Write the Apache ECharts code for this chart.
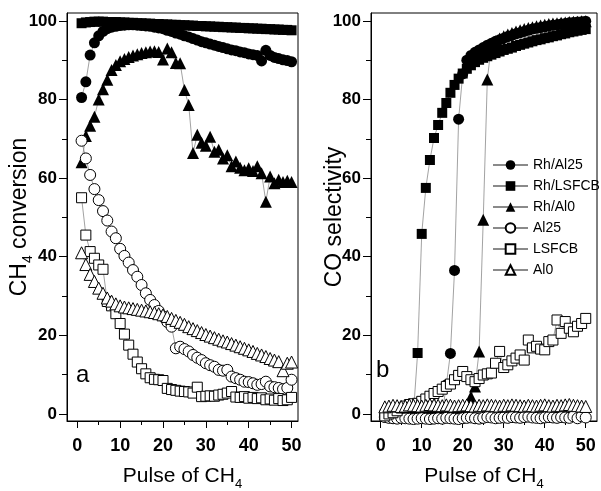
<!DOCTYPE html>
<html>
<head>
<meta charset="utf-8">
<script src="https://cdn.jsdelivr.net/npm/echarts@6/dist/echarts.min.js"></script>
<style>
html,body{margin:0;padding:0;background:#fff;}
#chart{width:601px;height:491px;}
</style>
</head>
<body>
<div id="chart"></div>
<script>
// ---------- data ----------
var pulses = [1,2,3,4,5,6,7,8,9,10,11,12,13,14,15,16,17,18,19,20,21,22,23,24,25,26,27,28,29,30,31,32,33,34,35,36,37,38,39,40,41,42,43,44,45,46,47,48,49,50];
var seriesNames = ['Rh/Al25','Rh/LSFCB','Rh/Al0','Al25','LSFCB','Al0'];

// panel a: CH4 conversion (%)
var rhAl25Conv = [80.5,84.5,91.3,94.4,96.2,97.3,98.0,98.4,98.6,98.8,98.9,99.0,99.0,98.9,98.8,98.7,98.6,98.4,98.2,98.0,97.6,97.3,96.9,96.6,96.2,95.9,95.5,95.1,94.7,94.4,94.1,93.8,93.5,93.2,92.9,92.6,92.4,92.1,91.9,91.6,91.4,91.2,89.8,92.5,91.2,90.7,90.4,90.1,89.9,89.6];
var rhLsfcbConv = [99.4,99.6,99.7,99.8,99.8,99.8,99.7,99.7,99.7,99.6,99.6,99.5,99.5,99.4,99.4,99.3,99.3,99.2,99.2,99.1,99.1,99.0,99.0,98.9,98.9,98.8,98.8,98.7,98.7,98.6,98.6,98.5,98.5,98.4,98.4,98.3,98.3,98.2,98.2,98.1,98.1,98.0,98.0,97.9,97.9,97.8,97.8,97.7,97.7,97.6];
var rhAl0Conv = [64.0,70.7,73.3,75.6,80.0,82.6,85.0,87.5,88.8,89.7,90.3,90.8,91.2,91.5,91.8,92.0,92.2,92.3,92.1,90.2,93.0,92.0,89.3,89.2,82.4,78.6,66.4,71.0,69.0,68.2,70.5,66.7,67.2,65.0,65.8,63.0,64.2,62.6,62.0,62.5,61.8,63.0,61.2,54.0,60.4,58.7,59.6,59.0,59.3,59.0];
var al25Conv = [69.5,65.0,60.8,57.2,54.4,51.6,49.2,46.4,44.7,42.0,40.2,38.5,36.6,34.9,32.8,30.7,29.0,27.7,26.2,24.8,23.4,22.2,16.7,17.1,16.5,15.9,15.0,14.3,13.7,12.9,12.4,12.0,11.2,11.0,11.2,9.5,9.1,8.7,8.2,8.1,7.8,7.4,7.6,8.2,7.0,6.8,6.6,6.3,6.6,8.7];
var lsfcbConv = [55.0,45.5,41.3,39.6,37.9,36.8,28.6,27.5,25.5,23.0,20.3,17.5,15.2,13.2,11.5,10.2,9.2,8.8,8.7,8.5,6.5,6.2,6.0,5.8,5.7,5.6,5.3,6.8,4.4,4.5,4.6,4.5,4.8,5.0,5.3,5.7,4.3,4.2,4.4,4.0,4.2,3.9,4.1,3.6,3.8,3.5,3.9,3.4,3.6,4.2];
var al0Conv = [41.0,38.0,35.5,33.7,32.0,30.7,29.5,28.7,28.0,27.5,27.2,27.0,26.8,26.6,26.4,26.2,26.0,25.8,25.5,25.2,24.8,24.3,23.8,23.3,22.8,22.2,21.7,21.2,20.7,20.2,19.8,19.4,19.0,18.6,18.3,17.9,17.5,17.1,16.7,16.3,15.9,15.4,15.0,14.6,14.1,13.7,13.3,11.0,12.9,13.2];

// panel b: CO selectivity (%)
var rhAl25Sel = [0,0,0,0,0,0,0,0,0,0,0,0,0,0,0,7.4,15.4,36.5,75.0,86.5,90.0,91.2,92.0,92.6,93.2,93.8,94.3,94.8,95.2,95.6,96.0,96.3,96.7,97.0,97.3,97.6,97.9,98.1,98.3,98.5,98.7,98.9,99.0,99.2,99.3,99.5,99.6,99.7,99.8,99.9];
var rhLsfcbSel = [0,0,0,0,0,0,0,0.5,15.5,45.8,57.5,64.6,70.2,73.5,76.6,79.1,81.7,83.7,85.3,86.6,87.8,88.7,89.5,90.1,90.6,91.0,91.4,91.8,92.2,92.6,92.9,93.2,93.6,93.9,94.2,94.5,94.8,95.1,95.3,95.6,95.8,96.1,96.3,96.6,96.8,97.1,97.3,97.5,97.7,97.9];
var rhAl0Sel = [0,0,0,0,0,0,0,0,0,0,0,0,0,0,0,0,0,0,0,0,0,4.4,7.0,15.9,49.4,85.1,93.9,94.8,95.5,96.1,96.5,96.9,97.3,97.6,97.9,98.2,98.4,98.6,98.8,99.0,99.2,99.3,99.4,99.5,99.6,99.7,99.8,99.8,99.9,99.9];
var al25Sel = [-0.8,-1.0,-1.1,-1.2,-1.0,-1.1,-1.2,-1.3,-1.2,-1.1,-1.2,-1.3,-1.2,-1.1,-1.2,-1.0,-1.1,-1.2,-1.3,-1.1,-1.0,-0.9,-1.1,-1.2,-1.0,-0.8,-0.9,-1.1,-1.0,-0.9,-1.0,-0.8,-0.9,-1.0,-0.8,-0.7,-0.9,-1.0,-1.1,-0.9,-0.8,-0.9,-1.0,-0.8,-0.9,-1.0,-0.6,-1.1,-0.6,-0.9];
var lsfcbSel = [-0.5,0.0,0.3,0.8,1.5,2.0,2.4,2.6,2.7,3.2,3.8,4.5,5.2,5.7,6.3,7.0,7.6,8.7,9.8,10.8,9.5,8.7,8.2,9.0,9.9,10.2,10.4,12.9,15.9,11.8,12.5,13.5,14.2,15.0,13.7,18.8,16.8,17.2,16.5,16.3,18.4,18.8,23.9,20.5,23.5,21.8,20.9,22.3,23.0,24.3];
var al0Sel = [1.8,2.0,2.2,2.1,1.9,2.0,2.3,2.2,2.1,2.0,2.2,2.4,2.3,2.2,2.1,2.3,2.2,2.0,2.1,2.2,2.3,2.1,2.0,2.2,2.1,2.3,2.2,2.1,2.0,2.2,2.1,2.3,2.2,2.1,2.0,2.2,2.1,2.0,2.2,2.3,2.1,2.0,2.2,2.1,2.3,2.4,2.2,2.1,2.0,1.9];

var xMajorTicks = [0,10,20,30,40,50];
var xMinorTicks = [5,15,25,35,45];
var yMajorTicks = [0,20,40,60,80,100];
var yMinorTicks = [10,30,50,70,90];

// ---------- chart ----------
var FONT = 'Liberation Sans, Arial, sans-serif';
var chart = echarts.init(document.getElementById('chart'), null, {renderer: 'canvas'});

function pairs(vals){ return pulses.map(function(p,i){ return [p, vals[i]]; }); }

var markerStyles = {
  'Rh/Al25': {symbol:'circle', size:11, fill:'#000'},
  'Rh/LSFCB': {symbol:'rect', size:10, fill:'#000'},
  'Rh/Al0': {symbol:'triangle', size:12, fill:'#000'},
  'Al25': {symbol:'circle', size:11, fill:'#fff'},
  'LSFCB': {symbol:'rect', size:10, fill:'#fff'},
  'Al0': {symbol:'triangle', size:12, fill:'#fff'}
};

function mkSeries(name, vals, gi){
  var m = markerStyles[name];
  return {
    type:'line', name:name, xAxisIndex: gi, yAxisIndex: gi,
    data: pairs(vals), symbol:m.symbol, symbolSize:m.size,
    showSymbol:true, showAllSymbol:true, clip:false,
    itemStyle:{color:m.fill, borderColor:'#000', borderWidth: m.fill==='#fff'?1:0},
    lineStyle:{color:'#8a8a8a', width:0.8},
    emphasis:{disabled:true},
    z: m.fill==='#fff'?3:2
  };
}

var subRichX = {
  n:{fontSize:21, fontFamily:FONT, color:'#000', lineHeight:30},
  s:{fontSize:13, fontFamily:FONT, color:'#000', lineHeight:13, verticalAlign:'bottom'}
};
var subRichY = {
  n:{fontSize:23, fontFamily:FONT, color:'#000', lineHeight:30},
  s:{fontSize:14, fontFamily:FONT, color:'#000', lineHeight:13, verticalAlign:'bottom'}
};

var xRanges = [[-2.4, 51.5], [-2.37, 52.75]];
var yRange = [-1.8, 102];

function xMain(gi){
  return {gridIndex:gi, type:'value', position:'bottom', min:xRanges[gi][0], max:xRanges[gi][1],
    axisLine:{show:true, onZero:false, lineStyle:{color:'#000', width:1}},
    axisTick:{show:true, inside:false, length:7, customValues:xMajorTicks, lineStyle:{color:'#000', width:1}},
    axisLabel:{show:true, customValues:xMajorTicks, margin:16, fontSize:18, fontWeight:'bold', fontFamily:FONT, color:'#000'},
    splitLine:{show:false},
    name:'{n|Pulse of CH}{s|4}', nameLocation:'middle', nameGap:40, nameMoveOverlap:false,
    nameTextStyle:{rich:subRichX}};
}
function xMinor(gi){
  return {gridIndex:gi+2, type:'value', position:'bottom', min:xRanges[gi][0], max:xRanges[gi][1],
    axisLine:{show:false, onZero:false},
    axisTick:{show:true, inside:false, length:4, customValues:xMinorTicks, lineStyle:{color:'#000', width:1}},
    axisLabel:{show:false}, splitLine:{show:false}};
}
function yMain(gi, nameText, gap){
  return {gridIndex:gi, type:'value', position:'left', min:yRange[0], max:yRange[1],
    axisLine:{show:true, onZero:false, lineStyle:{color:'#000', width:1}},
    axisTick:{show:true, inside:false, length:8, customValues:yMajorTicks, lineStyle:{color:'#000', width:1}},
    axisLabel:{show:true, customValues:yMajorTicks, margin:10, fontSize:17, fontWeight:'bold', fontFamily:FONT, color:'#000'},
    splitLine:{show:false},
    name:nameText, nameLocation:'middle', nameGap:gap, nameMoveOverlap:false,
    nameTextStyle:{rich:subRichY}};
}
function yMinor(gi){
  return {gridIndex:gi+2, type:'value', position:'left', min:yRange[0], max:yRange[1],
    axisLine:{show:false, onZero:false},
    axisTick:{show:true, inside:false, length:5, customValues:yMinorTicks, lineStyle:{color:'#000', width:1}},
    axisLabel:{show:false}, splitLine:{show:false}};
}

var series = [
  mkSeries('Rh/Al25', rhAl25Conv, 0),
  mkSeries('Rh/LSFCB', rhLsfcbConv, 0),
  mkSeries('Rh/Al0', rhAl0Conv, 0),
  mkSeries('Al25', al25Conv, 0),
  mkSeries('LSFCB', lsfcbConv, 0),
  mkSeries('Al0', al0Conv, 0),
  mkSeries('Rh/Al25', rhAl25Sel, 1),
  mkSeries('Rh/LSFCB', rhLsfcbSel, 1),
  mkSeries('Rh/Al0', rhAl0Sel, 1),
  mkSeries('Al25', al25Sel, 1),
  mkSeries('LSFCB', lsfcbSel, 1),
  mkSeries('Al0', al0Sel, 1)
];

var gridA = {left:67, top:13, width:231, height:408};
var gridB = {left:371, top:13, width:226, height:408};
function g(r, show){
  return {left:r.left, top:r.top, width:r.width, height:r.height, outerBoundsMode:'none', containLabel:false,
    show:show, borderColor:'#000', borderWidth:1, backgroundColor:'transparent'};
}

var option = {
  animation:false,
  backgroundColor:'#fff',
  grid:[ g(gridA,true), g(gridB,true), g(gridA,false), g(gridB,false) ],
  xAxis: [ xMain(0), xMain(1), xMinor(0), xMinor(1) ],
  yAxis: [ yMain(0, '{n|CH}{s|4}{n| conversion}', 32), yMain(1, '{n|CO selectivity}', 21), yMinor(0), yMinor(1) ],
  legend:{
    data: seriesNames, orient:'vertical', left:487, top:153, padding:5,
    itemWidth:35, itemHeight:12, itemGap:7,
    textStyle:{fontSize:14, fontFamily:FONT, color:'#000'},
    selectedMode:false
  },
  graphic:[
    {type:'text', left:76, top:363, style:{text:'a', font:'24px Liberation Sans, Arial', fill:'#000'}},
    {type:'text', left:376, top:358, style:{text:'b', font:'24px Liberation Sans, Arial', fill:'#000'}}
  ],
  series: series
};
chart.setOption(option);
</script>
</body>
</html>
